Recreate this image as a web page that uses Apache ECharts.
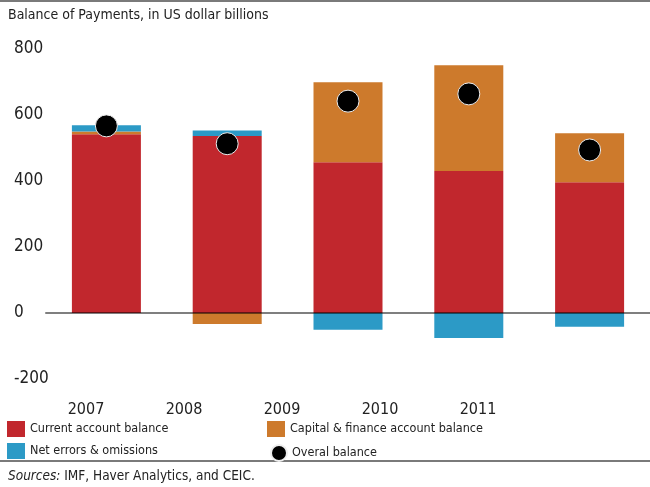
<!DOCTYPE html>
<html>
<head>
<meta charset="utf-8">
<script src="https://cdn.jsdelivr.net/npm/echarts@6/dist/echarts.min.js"></script>
<style>
  html, body { margin: 0; padding: 0; background: #fff; }
  #chart { width: 650px; height: 487px; }
</style>
</head>
<body>
<div id="chart"></div>
<script>
// Balance of payments components, US$ billions
const years = ['2007', '2008', '2009', '2010', '2011'];
const currentAccount = [542, 536, 457, 430, 396];
const capitalFinance = [8, -33, 242, 321, 149];
const netErrors = [19, 17, -51, -76, -42];
const overallBalance = [567, 513, 642, 664, 494];
const yTicks = { min: -200, max: 800, step: 200 };

const FONT = '"DejaVu Sans Condensed", "Liberation Sans Narrow", "Roboto", sans-serif';
const RED = '#C1272D', ORANGE = '#CD7A2C', BLUE = '#2C9AC6';
const INK = '#222';

const chart = echarts.init(document.getElementById('chart'), null, { renderer: 'canvas' });

const legendText = { fontFamily: FONT, fontSize: 12.5, color: INK };

chart.setOption({
  animation: false,
  backgroundColor: '#fff',
  textStyle: { fontFamily: FONT, color: INK },
  grid: [
    { left: 46, top: 49, width: 608, height: 330 },
    { left: 37, top: 49, width: 490, height: 330 }
  ],
  xAxis: [
    {
      type: 'category', gridIndex: 0, data: years, z: 5,
      axisLine: { onZero: true, lineStyle: { color: 'rgba(0,0,0,0.5)', width: 2 } },
      axisTick: { show: false }, axisLabel: { show: false }
    },
    {
      type: 'category', gridIndex: 1, data: years,
      axisLine: { show: false }, axisTick: { show: false },
      axisLabel: { fontFamily: FONT, fontSize: 16, color: INK, margin: 23 }
    }
  ],
  yAxis: [
    {
      type: 'value', gridIndex: 0, min: yTicks.min, max: yTicks.max, interval: yTicks.step,
      axisLine: { show: false }, axisTick: { show: false }, splitLine: { show: false },
      axisLabel: { fontFamily: FONT, fontSize: 17, color: INK, align: 'left', margin: 32 }
    },
    {
      type: 'value', gridIndex: 1, min: yTicks.min, max: yTicks.max, show: false
    }
  ],
  legend: [
    {
      left: 7, top: 421, orient: 'vertical', padding: 0, itemWidth: 18, itemHeight: 16, itemGap: 6,
      icon: 'rect', textStyle: legendText,
      data: ['Current account balance', 'Net errors & omissions']
    },
    {
      left: 267, top: 421, padding: 0, itemWidth: 18, itemHeight: 16,
      icon: 'rect', textStyle: legendText,
      data: ['Capital & finance account balance']
    },
    {
      left: 270, top: 444, padding: 0, itemWidth: 16, itemHeight: 16,
      icon: 'circle', textStyle: legendText,
      data: ['Overal balance']
    }
  ],
  series: [
    {
      name: 'Current account balance', type: 'bar', stack: 'bop', barWidth: 69,
      itemStyle: { color: RED }, data: currentAccount
    },
    {
      name: 'Capital & finance account balance', type: 'bar', stack: 'bop', barWidth: 69,
      itemStyle: { color: ORANGE }, data: capitalFinance
    },
    {
      name: 'Net errors & omissions', type: 'bar', stack: 'bop', barWidth: 69,
      itemStyle: { color: BLUE }, data: netErrors
    },
    {
      name: 'Overal balance', type: 'scatter', symbol: 'circle', symbolSize: 22, z: 10,
      itemStyle: { color: '#000', borderColor: '#eee', borderWidth: 1, opacity: 1 },
      data: overallBalance
    }
  ],
  graphic: [
    { type: 'line', shape: { x1: 0, y1: 1, x2: 650, y2: 1 }, style: { stroke: '#7a7a7a', lineWidth: 2 } },
    {
      type: 'text', left: 8, top: 8,
      style: { text: 'Balance of Payments, in US dollar billions', font: '14px ' + FONT, fill: INK }
    },
    { type: 'line', shape: { x1: 0, y1: 461, x2: 650, y2: 461 }, style: { stroke: '#7a7a7a', lineWidth: 2 } },
    {
      type: 'text', left: 8, top: 469,
      style: {
        text: '{i|Sources:} IMF, Haver Analytics, and CEIC.',
        font: '13.5px ' + FONT, fill: INK,
        rich: { i: { fontStyle: 'italic', fontFamily: FONT, fontSize: 13.5, fill: INK } }
      }
    }
  ]
});
</script>
</body>
</html>
